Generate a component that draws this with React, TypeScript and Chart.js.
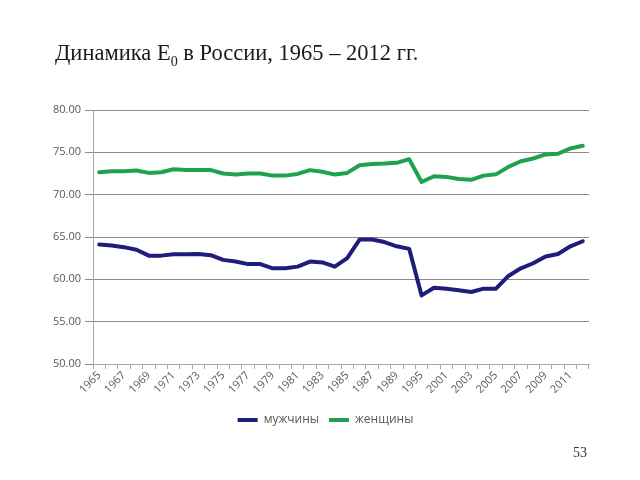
import React, { useEffect, useRef } from "react";
import { Chart, registerables } from "chart.js";

Chart.register(...registerables);

const years: string[] = [
  "1965", "1966", "1967", "1968", "1969", "1970", "1971", "1972", "1973", "1974",
  "1975", "1976", "1977", "1978", "1979", "1980", "1981", "1982", "1983", "1984",
  "1985", "1986", "1987", "1988", "1989", "1990", "1995", "2000", "2001", "2002",
  "2003", "2004", "2005", "2006", "2007", "2008", "2009", "2010", "2011", "2012",
];

const men: number[] = [
  64.1, 64.0, 63.8, 63.5, 62.8, 62.8, 62.95, 62.95, 63.0, 62.85,
  62.3, 62.1, 61.8, 61.8, 61.3, 61.3, 61.5, 62.1, 62.0, 61.5,
  62.5, 64.7, 64.7, 64.4, 63.9, 63.6, 58.1, 59.0, 58.9, 58.7,
  58.5, 58.9, 58.9, 60.4, 61.3, 61.9, 62.7, 63.0, 63.9, 64.5,
];

const women: number[] = [
  72.65, 72.77, 72.77, 72.85, 72.57, 72.65, 73.0, 72.9, 72.9, 72.9,
  72.5, 72.37, 72.5, 72.5, 72.25, 72.25, 72.45, 72.9, 72.7, 72.37,
  72.57, 73.48, 73.63, 73.67, 73.76, 74.19, 71.5, 72.17, 72.1, 71.86,
  71.75, 72.25, 72.4, 73.28, 73.95, 74.27, 74.75, 74.83, 75.46, 75.77,
];

const seriesNames: string[] = ["мужчины", "женщины"];
const seriesColors: string[] = ["#1f1c7c", "#1fa150"];

const yMin = 50;
const yMax = 80;
const yStep = 5;

const labelColor = "#595959";
const tickFont = '"Open Sans", "DejaVu Sans", sans-serif';

const legendShift = {
  id: "legendShift",
  afterLayout(chart: any) {
    const lg = chart.legend;
    if (lg) {
      lg.left += 31;
      lg.right += 31;
    }
  },
};

function ChartCanvas() {
  const ref = useRef<HTMLCanvasElement | null>(null);
  useEffect(() => {
    if (!ref.current) return;
    const chart = new Chart(ref.current, {
      type: "line",
      data: {
        labels: years,
        datasets: [
          {
            label: seriesNames[0],
            data: men,
            borderColor: seriesColors[0],
            backgroundColor: seriesColors[0],
            borderWidth: 4,
            pointRadius: 0,
            borderJoinStyle: "round",
            borderCapStyle: "round",
            tension: 0,
          },
          {
            label: seriesNames[1],
            data: women,
            borderColor: seriesColors[1],
            backgroundColor: seriesColors[1],
            borderWidth: 4,
            pointRadius: 0,
            borderJoinStyle: "round",
            borderCapStyle: "round",
            tension: 0,
          },
        ],
      },
      plugins: [legendShift],
      options: {
        animation: false,
        responsive: false,
        maintainAspectRatio: false,
        layout: { padding: { top: 110, right: 51, left: 0, bottom: 44 } },
        plugins: {
          tooltip: { enabled: false },
          legend: {
            position: "bottom",
            labels: {
              color: labelColor,
              font: { family: tickFont, size: 12 },
              boxWidth: 20,
              boxHeight: 4,
              padding: 10,
              generateLabels: (c: any) =>
                c.data.datasets.map((d: any, i: number) => ({
                  text: d.label,
                  fillStyle: d.borderColor,
                  strokeStyle: d.borderColor,
                  lineWidth: 0,
                  fontColor: labelColor,
                  datasetIndex: i,
                  hidden: false,
                })),
            },
          },
        },
        scales: {
          x: {
            offset: true,
            grid: {
              offset: true,
              drawOnChartArea: false,
              drawTicks: true,
              tickLength: 5,
              color: "#a6a6a6",
            },
            border: { color: "#a6a6a6", width: 1 },
            ticks: {
              autoSkip: false,
              maxRotation: 45,
              minRotation: 45,
              color: labelColor,
              font: { family: tickFont, size: 11 },
              padding: 0,
              callback: (_v: any, i: number) => (i % 2 === 0 ? years[i] : ""),
            },
            afterFit: (s: any) => {
              s.height = 40;
            },
          },
          y: {
            min: yMin,
            max: yMax,
            grid: {
              color: "#8c8c8c",
              drawTicks: true,
              tickLength: 8,
            },
            border: { color: "#a6a6a6", width: 1 },
            ticks: {
              stepSize: yStep,
              color: labelColor,
              font: { family: tickFont, size: 11 },
              padding: 4,
              callback: (v: any) => Number(v).toFixed(2),
            },
            afterFit: (s: any) => {
              s.width = 93;
            },
          },
        },
      },
    });
    return () => chart.destroy();
  }, []);
  return <canvas ref={ref} width={640} height={480} style={{ position: "absolute", left: 0, top: 0 }} />;
}

export default function App() {
  return (
    <div
      style={{
        position: "fixed",
        left: 0,
        top: 0,
        width: 640,
        height: 480,
        background: "#ffffff",
        overflow: "hidden",
      }}
    >
      <ChartCanvas />
      <div
        style={{
          position: "absolute",
          left: 55,
          top: 40,
          fontFamily: '"Liberation Serif", "DejaVu Serif", serif',
          fontSize: 22.5,
          color: "#1a1a1a",
          whiteSpace: "nowrap",
          lineHeight: "26px",
        }}
      >
        Динамика E<sub style={{ fontSize: 14 }}>0</sub> в России, 1965 – 2012 гг.
      </div>
      <div
        style={{
          position: "absolute",
          left: 573,
          top: 445,
          fontFamily: '"Liberation Serif", "DejaVu Serif", serif',
          fontSize: 14,
          color: "#333333",
        }}
      >
        53
      </div>
    </div>
  );
}
